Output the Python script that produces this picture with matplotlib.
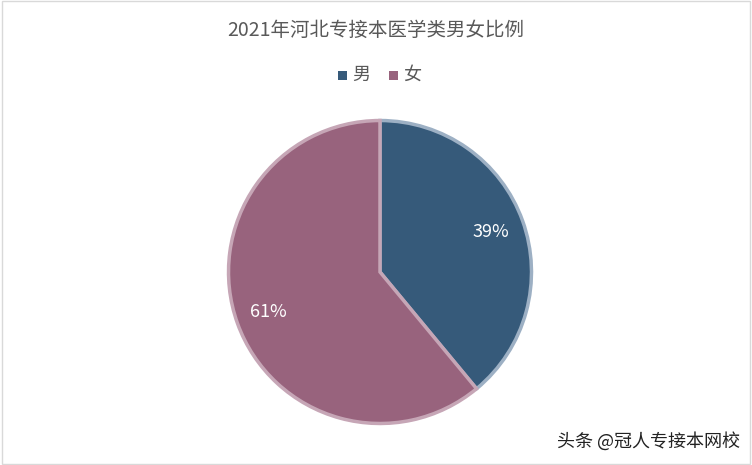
import matplotlib
matplotlib.use("Agg")
import matplotlib.pyplot as plt
from matplotlib.patches import Rectangle

plt.rcParams['font.family'] = ['Noto Sans CJK SC', 'DejaVu Sans']

categories = ['男', '女']
values = [39, 61]
colors = ['#365A7A', '#98637D']
edges = ['#9DB0C4', '#C6A6B6']

fig = plt.figure(figsize=(7.52, 4.65), dpi=100)
fig.patches.append(Rectangle((0.002, 0.002), 0.996, 0.996, transform=fig.transFigure,
                             fill=False, edgecolor='#D9D9D9', linewidth=1))
ax = fig.add_axes([(380-153)/752, 1-(272+153)/465, 306/752, 306/465])
wedges, texts, autotexts = ax.pie(values, colors=colors, startangle=90, counterclock=False,
                                  autopct='%d%%', pctdistance=0.78,
                                  wedgeprops=dict(linewidth=2.5, edgecolor='#D0D0D0'),
                                  textprops=dict(color='white', fontsize=13))
for w, e in zip(wedges, edges):
    w.set_edgecolor(e)
ax.set_xlim(-1.01, 1.01)
ax.set_ylim(-1.01, 1.01)
ax.set_aspect('equal')

fig.text(0.5, 1-30/465, '2021年河北专接本医学类男女比例', ha='center', va='center',
         fontsize=14, color='#595959')
for i, (c, col) in enumerate(zip(categories, colors)):
    x = 338 + i*51
    fig.patches.append(Rectangle((x/752, 1-80/465), 9/752, 9/465, transform=fig.transFigure,
                                 facecolor=col, edgecolor='none'))
    fig.text((x+14)/752, 1-75/465, c, ha='left', va='center', fontsize=13, color='#595959')

fig.text(1-12/752, 1-441/465, '头条 @冠人专接本网校', ha='right', va='center',
         fontsize=13, color='#222222')
fig.savefig('out.png', dpi=100, facecolor='white')
